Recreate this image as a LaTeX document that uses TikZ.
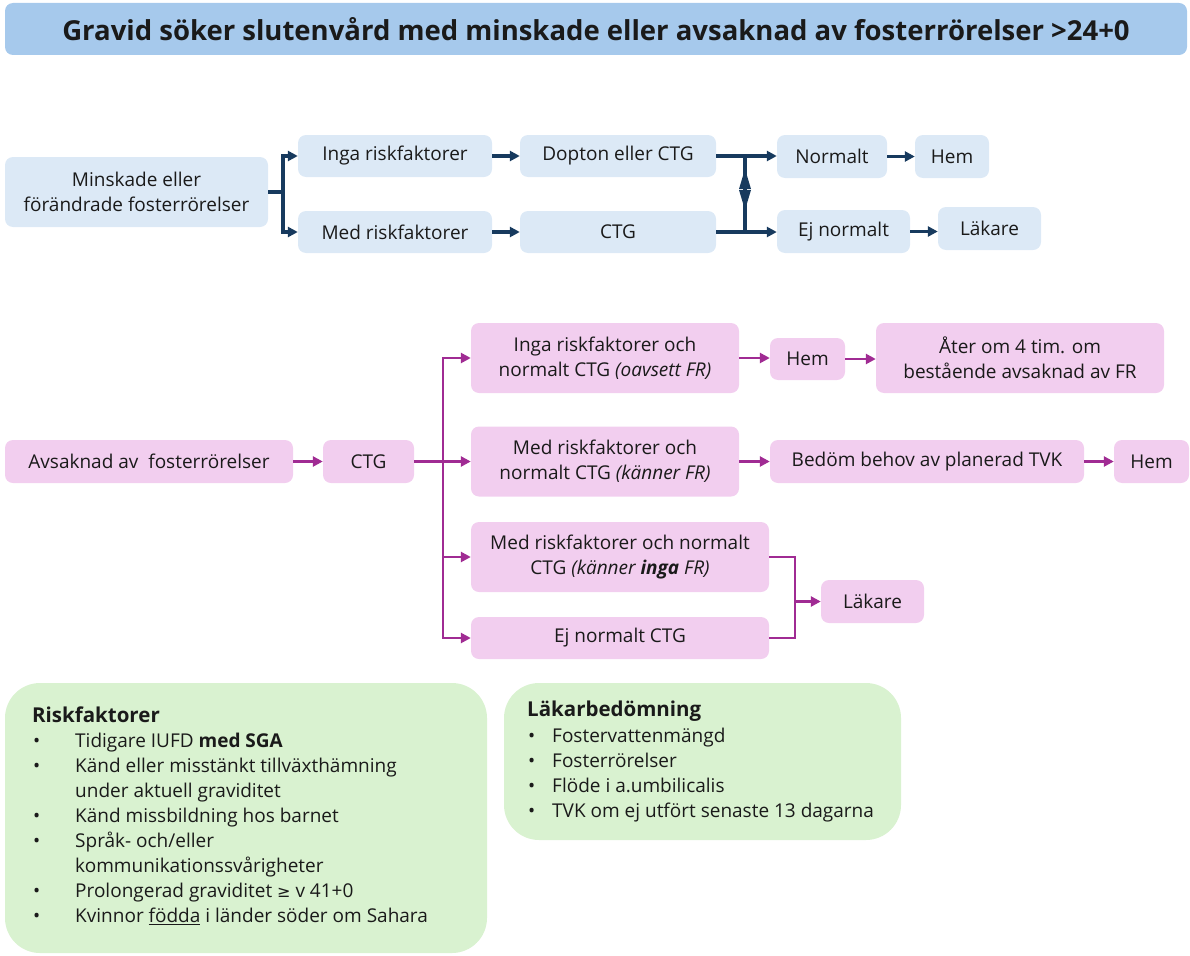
\documentclass[tikz,border=0pt]{standalone}
\usepackage{fontspec}
\usepackage{graphicx}
\setmainfont{Open Sans}
\newfontfamily\dejavu{DejaVu Sans}
\usetikzlibrary{arrows.meta,calc}
\definecolor{bluebox}{HTML}{DCE9F6}
\definecolor{titlebox}{HTML}{A6C9EC}
\definecolor{navy}{HTML}{173A5E}
\definecolor{pinkbox}{HTML}{F2CEEF}
\definecolor{purp}{HTML}{A02B93}
\definecolor{greenbox}{HTML}{D9F2D0}
\definecolor{txt}{HTML}{1A1A1A}
\begin{document}
\begin{tikzpicture}[x=1pt,y=-1pt,
  font=\fontsize{19}{25}\selectfont, text=txt,
  bnode/.style={fill=bluebox, rounded corners=8pt, inner sep=0pt, align=center},
  pnode/.style={fill=pinkbox, rounded corners=8pt, inner sep=0pt, align=center},
  gbox/.style={fill=greenbox, rounded corners=35pt, inner sep=0pt},
  nline/.style={draw=navy, line width=3.2pt},
  narrow/.style={nline, -{Triangle[length=10pt,width=10pt]}},
  pline/.style={draw=purp, line width=2.8pt},
  parrow/.style={pline, -{Triangle[length=10pt,width=10pt]}},
  ltext/.style={anchor=west, inner sep=0pt, text height=13.5pt, text depth=4pt},
]
\useasboundingbox (0,0) rectangle (1190,955);

% title
\node[fill=titlebox, rounded corners=8pt, minimum width=1182pt, minimum height=52pt, inner sep=0pt] (title) at (596,29)
  {\bfseries\fontsize{27.5}{32}\selectfont Gravid söker slutenvård med minskade eller avsaknad av fosterrörelser >24+0};

% top section
\node[bnode, minimum width=263pt, minimum height=70pt] (m) at (136.5,192) {Minskade eller\\förändrade fosterrörelser};
\node[bnode, minimum width=194pt, minimum height=42pt] (i1) at (395,156) {Inga riskfaktorer};
\node[bnode, minimum width=194pt, minimum height=42pt] (m1) at (395,232) {Med riskfaktorer};
\node[bnode, minimum width=196pt, minimum height=42pt] (d) at (618,156) {Dopton eller CTG};
\node[bnode, minimum width=196pt, minimum height=42pt] (c) at (618,232) {CTG};
\node[bnode, minimum width=110pt, minimum height=43pt] (n) at (832,156.5) {Normalt};
\node[bnode, minimum width=133pt, minimum height=43pt] (e) at (843.5,231.5) {Ej normalt};
\node[bnode, minimum width=74pt, minimum height=43pt] (h) at (952,156.5) {Hem};
\node[bnode, minimum width=103pt, minimum height=43pt] (l) at (989.5,228.5) {Läkare};

\coordinate (f1) at (283,192);
\draw[nline] (m.east) -- (f1);
\draw[narrow] (f1) |- (i1.west);
\draw[narrow] (f1) |- (m1.west);
\draw[narrow] (i1) -- (d);
\draw[narrow] (m1) -- (c);
\draw[narrow] (d.east) -- (d.east -| n.west);
\draw[narrow] (c.east) -- (c.east -| e.west);
\draw[narrow] (n.east) -- (n.east -| h.west);
\draw[narrow] (e.east) -- (e.east -| l.west);
\coordinate (vt) at (745,156);
\coordinate (vb) at (745,232);
\coordinate (vu) at (745,169);
\coordinate (vd) at (745,210);
\draw[nline] (vt) -- (vb);
\fill[navy] (vu) -- ($(vu)+(-6,20)$) -- ($(vu)+(6,20)$) -- cycle;
\fill[navy] (vd) -- ($(vd)+(-6,-20)$) -- ($(vd)+(6,-20)$) -- cycle;

% bottom section
\node[pnode, minimum width=288pt, minimum height=43pt] (a) at (149,461.5) {Avsaknad av\ \ fosterrörelser};
\node[pnode, minimum width=91pt, minimum height=43pt] (ct) at (368.5,461.5) {CTG};
\node[pnode, minimum width=268pt, minimum height=70pt] (p1) at (605,358) {Inga riskfaktorer och\\normalt CTG \textit{(oavsett FR)}};
\node[pnode, minimum width=268pt, minimum height=70pt] (p2) at (605,461.5) {Med riskfaktorer och\\normalt CTG \textit{(känner FR)}};
\node[pnode, minimum width=298pt, minimum height=70pt] (p3) at (620,557) {Med riskfaktorer och normalt\\CTG \textit{(känner \textbf{inga} FR)}};
\node[pnode, minimum width=298pt, minimum height=42pt] (p4) at (620,638) {Ej normalt CTG};
\node[pnode, minimum width=75pt, minimum height=42pt] (ph1) at (807.5,359) {Hem};
\node[pnode, minimum width=288pt, minimum height=70pt] (pa) at (1020,358) {Åter om 4 tim. om\\bestående avsaknad av FR};
\node[pnode, minimum width=314pt, minimum height=43pt] (pb) at (927,461.5) {Bedöm behov av planerad TVK};
\node[pnode, minimum width=75pt, minimum height=43pt] (ph2) at (1151.5,461.5) {Hem};
\node[pnode, minimum width=103pt, minimum height=43pt] (pl) at (872.5,601.5) {Läkare};

\draw[parrow] (a.east) -- (ct.west);
\coordinate (fork) at (443,461.5);
\draw[parrow] (ct.east) -- (p2.west);
\draw[parrow] (fork) |- (p1.west);
\draw[parrow] (fork) |- (p3.west);
\draw[parrow] (fork) |- (p4.west);
\coordinate (j) at (795,601.5);
\draw[pline] (p3.east) -| (j);
\draw[pline] (p4.east) -| (j);
\draw[parrow] (j) -- (pl.west);
\draw[parrow] (p1.east) -- (p1.east -| ph1.west);
\draw[parrow] (ph1.east) -- (ph1.east -| pa.west);
\draw[parrow] (p2.east) -- (p2.east -| pb.west);
\draw[parrow] (pb.east) -- (pb.east -| ph2.west);

% green boxes
\node[gbox, minimum width=482pt, minimum height=270pt] (rf) at (246,818) {};
\node[gbox, minimum width=397pt, minimum height=157pt] (lb) at (702.5,761.5) {};

\node[ltext, font=\fontsize{20.5}{25}\selectfont\bfseries] (rft) at (32,718) {Riskfaktorer};
\foreach \y/\t [count=\i] in {743/{Tidigare IUFD \textbf{med SGA}},768/{Känd eller misstänkt tillväxthämning},818/{Känd missbildning hos barnet},843/{Språk- och/eller},893/{Prolongerad graviditet {\dejavu\fontsize{16}{25}\selectfont ≥} v 41+0},918/{Kvinnor \underline{födda} i länder söder om Sahara}}{
  \node[ltext] (rb\i) at (33,\y) {\textbullet};
  \node[ltext] (ri\i) at (75,\y) {\t};
}
\node[ltext] (rc1) at (75,793) {under aktuell graviditet};
\node[ltext] (rc2) at (75,868) {kommunikationssvårigheter};

\node[ltext, font=\fontsize{20.5}{25}\selectfont\bfseries] (lbt) at (527,712) {Läkarbedömning};
\foreach \y/\t [count=\i] in {738/Fostervattenmängd,763/Fosterrörelser,788/Flöde i a.umbilicalis,813/TVK om ej utfört senaste 13 dagarna}{
  \node[ltext] (lb\i) at (528,\y) {\textbullet};
  \node[ltext] (li\i) at (552,\y) {\t};
}
\end{tikzpicture}
\end{document}
